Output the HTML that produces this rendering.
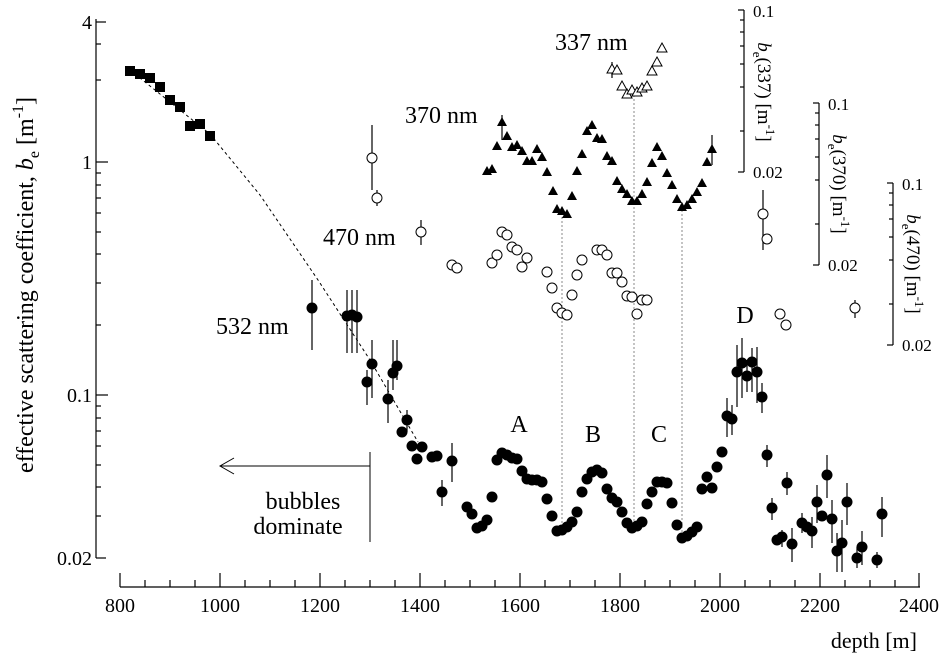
<!DOCTYPE html>
<html><head><meta charset="utf-8"><style>
html,body{margin:0;padding:0;background:#fff;}
svg{display:block;font-family:"Liberation Serif",serif;}
</style></head><body>
<svg width="942" height="662" viewBox="0 0 942 662" xmlns="http://www.w3.org/2000/svg">
<g stroke="#000" stroke-width="1.2" fill="none">
<line x1="96" y1="19" x2="96" y2="558"/>
<line x1="96" y1="22" x2="106" y2="22"/><line x1="96" y1="44" x2="101" y2="44"/><line x1="96" y1="80" x2="101" y2="80"/>
<line x1="96" y1="162" x2="108" y2="162"/>
<line x1="96" y1="173" x2="101" y2="173"/><line x1="96" y1="185" x2="101" y2="185"/><line x1="96" y1="198" x2="101" y2="198"/><line x1="96" y1="213" x2="101" y2="213"/><line x1="96" y1="232" x2="101" y2="232"/><line x1="96" y1="254" x2="101" y2="254"/><line x1="96" y1="283" x2="101" y2="283"/><line x1="96" y1="325" x2="101" y2="325"/>
<line x1="96" y1="395" x2="108" y2="395"/>
<line x1="96" y1="406" x2="101" y2="406"/><line x1="96" y1="418" x2="101" y2="418"/><line x1="96" y1="431" x2="101" y2="431"/><line x1="96" y1="446" x2="101" y2="446"/><line x1="96" y1="465" x2="101" y2="465"/><line x1="96" y1="487" x2="101" y2="487"/><line x1="96" y1="516" x2="101" y2="516"/>
<line x1="96" y1="558" x2="106" y2="558"/>
<line x1="120" y1="587" x2="920" y2="587"/>
<line x1="120" y1="573" x2="120" y2="587"/><line x1="220" y1="573" x2="220" y2="587"/><line x1="320" y1="573" x2="320" y2="587"/><line x1="420" y1="573" x2="420" y2="587"/><line x1="520" y1="573" x2="520" y2="587"/><line x1="620" y1="573" x2="620" y2="587"/><line x1="720" y1="573" x2="720" y2="587"/><line x1="820" y1="573" x2="820" y2="587"/><line x1="919" y1="573" x2="919" y2="587"/>
<line x1="145" y1="580" x2="145" y2="587"/><line x1="170" y1="580" x2="170" y2="587"/><line x1="195" y1="580" x2="195" y2="587"/><line x1="245" y1="580" x2="245" y2="587"/><line x1="270" y1="580" x2="270" y2="587"/><line x1="295" y1="580" x2="295" y2="587"/><line x1="345" y1="580" x2="345" y2="587"/><line x1="370" y1="580" x2="370" y2="587"/><line x1="395" y1="580" x2="395" y2="587"/><line x1="445" y1="580" x2="445" y2="587"/><line x1="470" y1="580" x2="470" y2="587"/><line x1="495" y1="580" x2="495" y2="587"/><line x1="545" y1="580" x2="545" y2="587"/><line x1="570" y1="580" x2="570" y2="587"/><line x1="595" y1="580" x2="595" y2="587"/><line x1="645" y1="580" x2="645" y2="587"/><line x1="670" y1="580" x2="670" y2="587"/><line x1="695" y1="580" x2="695" y2="587"/><line x1="745" y1="580" x2="745" y2="587"/><line x1="770" y1="580" x2="770" y2="587"/><line x1="795" y1="580" x2="795" y2="587"/><line x1="845" y1="580" x2="845" y2="587"/><line x1="870" y1="580" x2="870" y2="587"/><line x1="895" y1="580" x2="895" y2="587"/>
<line x1="744" y1="10" x2="744" y2="172"/>
<line x1="738" y1="10" x2="744" y2="10"/><line x1="740" y1="20" x2="744" y2="20"/><line x1="740" y1="32" x2="744" y2="32"/><line x1="740" y1="46" x2="744" y2="46"/><line x1="740" y1="64" x2="744" y2="64"/><line x1="740" y1="87" x2="744" y2="87"/><line x1="740" y1="131" x2="744" y2="131"/><line x1="738" y1="172" x2="744" y2="172"/>
<line x1="819" y1="103" x2="819" y2="265"/>
<line x1="813" y1="103" x2="819" y2="103"/><line x1="815" y1="113" x2="819" y2="113"/><line x1="815" y1="125" x2="819" y2="125"/><line x1="815" y1="139" x2="819" y2="139"/><line x1="815" y1="157" x2="819" y2="157"/><line x1="815" y1="180" x2="819" y2="180"/><line x1="815" y1="224" x2="819" y2="224"/><line x1="813" y1="265" x2="819" y2="265"/>
<line x1="893" y1="183" x2="893" y2="345"/>
<line x1="887" y1="183" x2="893" y2="183"/><line x1="889" y1="193" x2="893" y2="193"/><line x1="889" y1="205" x2="893" y2="205"/><line x1="889" y1="219" x2="893" y2="219"/><line x1="889" y1="237" x2="893" y2="237"/><line x1="889" y1="260" x2="893" y2="260"/><line x1="889" y1="304" x2="893" y2="304"/><line x1="887" y1="345" x2="893" y2="345"/>
<polyline points="130,70 210,134 260,195 318,280 370,360 418,442" stroke-dasharray="3,3" stroke-width="1"/>
<g stroke="#888" stroke-dasharray="2,2" stroke-width="1"><line x1="562" y1="213" x2="562" y2="533"/><line x1="634" y1="95" x2="634" y2="532"/><line x1="682" y1="210" x2="682" y2="540"/></g>
<line x1="370" y1="452" x2="370" y2="542" stroke-width="1"/>
<line x1="220" y1="466" x2="370" y2="466" stroke-width="1"/>
<polyline points="234,458 220,466 234,474" stroke-width="1"/>
<g stroke-width="1.2">
<line x1="312" y1="280" x2="312" y2="350"/><line x1="347" y1="290" x2="347" y2="353"/><line x1="352" y1="290" x2="352" y2="353"/><line x1="357" y1="290" x2="357" y2="353"/>
<line x1="372" y1="340" x2="372" y2="398"/><line x1="367" y1="370" x2="367" y2="405"/><line x1="388" y1="380" x2="388" y2="423"/><line x1="393" y1="340" x2="393" y2="390"/><line x1="397" y1="340" x2="397" y2="380"/>
<line x1="407" y1="410" x2="407" y2="432"/><line x1="452" y1="443" x2="452" y2="482"/><line x1="442" y1="480" x2="442" y2="506"/>
<line x1="727" y1="398" x2="727" y2="437"/><line x1="732" y1="405" x2="732" y2="435"/><line x1="737" y1="345" x2="737" y2="407"/><line x1="742" y1="338" x2="742" y2="398"/><line x1="747" y1="360" x2="747" y2="392"/><line x1="752" y1="348" x2="752" y2="392"/><line x1="757" y1="347" x2="757" y2="403"/><line x1="762" y1="383" x2="762" y2="413"/>
<line x1="767" y1="445" x2="767" y2="467"/><line x1="772" y1="498" x2="772" y2="520"/><line x1="782" y1="530" x2="782" y2="547"/><line x1="787" y1="472" x2="787" y2="495"/><line x1="792" y1="528" x2="792" y2="562"/>
<line x1="802" y1="513" x2="802" y2="533"/><line x1="812" y1="517" x2="812" y2="548"/><line x1="817" y1="485" x2="817" y2="523"/><line x1="827" y1="455" x2="827" y2="498"/><line x1="832" y1="500" x2="832" y2="543"/><line x1="837" y1="533" x2="837" y2="572"/><line x1="842" y1="520" x2="842" y2="572"/><line x1="847" y1="483" x2="847" y2="525"/><line x1="857" y1="547" x2="857" y2="568"/><line x1="862" y1="531" x2="862" y2="565"/><line x1="877" y1="552" x2="877" y2="568"/><line x1="882" y1="497" x2="882" y2="537"/>
<line x1="372" y1="125" x2="372" y2="190"/><line x1="377" y1="190" x2="377" y2="206"/><line x1="421" y1="220" x2="421" y2="245"/><line x1="763" y1="190" x2="763" y2="250"/><line x1="855" y1="300" x2="855" y2="318"/>
<line x1="502" y1="115" x2="502" y2="140"/><line x1="612" y1="62" x2="612" y2="78"/><line x1="712" y1="135" x2="712" y2="165"/>
</g>
</g>
<g fill="#000">
<circle cx="312" cy="308" r="5.5"/><circle cx="347" cy="316" r="5.5"/><circle cx="352" cy="315" r="5.5"/><circle cx="357" cy="317" r="5.5"/><circle cx="372" cy="364" r="5.5"/><circle cx="367" cy="382" r="5.5"/><circle cx="388" cy="399" r="5.5"/><circle cx="393" cy="373" r="5.5"/><circle cx="397" cy="366" r="5.5"/><circle cx="407" cy="420" r="5.5"/><circle cx="402" cy="432" r="5.5"/><circle cx="412" cy="446" r="5.5"/><circle cx="417" cy="459" r="5.5"/><circle cx="422" cy="447" r="5.5"/><circle cx="432" cy="457" r="5.5"/><circle cx="437" cy="456" r="5.5"/><circle cx="452" cy="461" r="5.5"/><circle cx="442" cy="492" r="5.5"/>
<circle cx="467" cy="507" r="5.5"/><circle cx="472" cy="514" r="5.5"/><circle cx="477" cy="528" r="5.5"/><circle cx="482" cy="526" r="5.5"/><circle cx="487" cy="520" r="5.5"/><circle cx="492" cy="497" r="5.5"/><circle cx="497" cy="460" r="5.5"/><circle cx="502" cy="453" r="5.5"/><circle cx="507" cy="455" r="5.5"/><circle cx="512" cy="458" r="5.5"/><circle cx="517" cy="459" r="5.5"/><circle cx="522" cy="471" r="5.5"/><circle cx="527" cy="479" r="5.5"/><circle cx="532" cy="480" r="5.5"/><circle cx="537" cy="480" r="5.5"/><circle cx="542" cy="482" r="5.5"/><circle cx="547" cy="499" r="5.5"/><circle cx="552" cy="516" r="5.5"/><circle cx="557" cy="531" r="5.5"/><circle cx="562" cy="530" r="5.5"/><circle cx="567" cy="527" r="5.5"/><circle cx="572" cy="522" r="5.5"/><circle cx="577" cy="512" r="5.5"/><circle cx="582" cy="492" r="5.5"/><circle cx="587" cy="479" r="5.5"/><circle cx="592" cy="472" r="5.5"/><circle cx="597" cy="470" r="5.5"/><circle cx="602" cy="473" r="5.5"/><circle cx="607" cy="489" r="5.5"/><circle cx="612" cy="498" r="5.5"/><circle cx="617" cy="502" r="5.5"/><circle cx="622" cy="512" r="5.5"/><circle cx="627" cy="523" r="5.5"/><circle cx="632" cy="528" r="5.5"/><circle cx="637" cy="526" r="5.5"/><circle cx="642" cy="522" r="5.5"/><circle cx="647" cy="504" r="5.5"/><circle cx="652" cy="492" r="5.5"/><circle cx="657" cy="482" r="5.5"/><circle cx="662" cy="482" r="5.5"/><circle cx="667" cy="483" r="5.5"/><circle cx="672" cy="503" r="5.5"/><circle cx="677" cy="525" r="5.5"/><circle cx="682" cy="538" r="5.5"/><circle cx="687" cy="536" r="5.5"/><circle cx="692" cy="532" r="5.5"/><circle cx="697" cy="527" r="5.5"/><circle cx="702" cy="489" r="5.5"/><circle cx="707" cy="477" r="5.5"/><circle cx="712" cy="488" r="5.5"/><circle cx="717" cy="467" r="5.5"/><circle cx="722" cy="452" r="5.5"/><circle cx="727" cy="416" r="5.5"/><circle cx="732" cy="419" r="5.5"/><circle cx="737" cy="372" r="5.5"/><circle cx="742" cy="363" r="5.5"/><circle cx="747" cy="376" r="5.5"/><circle cx="752" cy="362" r="5.5"/><circle cx="757" cy="372" r="5.5"/><circle cx="762" cy="397" r="5.5"/><circle cx="767" cy="455" r="5.5"/><circle cx="772" cy="508" r="5.5"/><circle cx="777" cy="540" r="5.5"/><circle cx="782" cy="537" r="5.5"/><circle cx="787" cy="483" r="5.5"/><circle cx="792" cy="544" r="5.5"/><circle cx="802" cy="523" r="5.5"/><circle cx="807" cy="527" r="5.5"/><circle cx="812" cy="531" r="5.5"/><circle cx="817" cy="502" r="5.5"/><circle cx="822" cy="516" r="5.5"/><circle cx="827" cy="475" r="5.5"/><circle cx="832" cy="519" r="5.5"/><circle cx="837" cy="551" r="5.5"/><circle cx="842" cy="543" r="5.5"/><circle cx="847" cy="502" r="5.5"/><circle cx="857" cy="558" r="5.5"/><circle cx="862" cy="547" r="5.5"/><circle cx="877" cy="560" r="5.5"/><circle cx="882" cy="514" r="5.5"/>
<rect x="125" y="66" width="10" height="10"/><rect x="135" y="69" width="10" height="10"/><rect x="145" y="73" width="10" height="10"/><rect x="155" y="82" width="10" height="10"/><rect x="165" y="95" width="10" height="10"/><rect x="175" y="102" width="10" height="10"/><rect x="185" y="121" width="10" height="10"/><rect x="195" y="119" width="10" height="10"/><rect x="205" y="131" width="10" height="10"/>
<path d="M487,166l5,9h-10z"/><path d="M492,164l5,9h-10z"/><path d="M497,141l5,9h-10z"/><path d="M502,117l5,9h-10z"/><path d="M507,131l5,9h-10z"/><path d="M512,142l5,9h-10z"/><path d="M517,140l5,9h-10z"/><path d="M522,146l5,9h-10z"/><path d="M527,156l5,9h-10z"/><path d="M532,156l5,9h-10z"/><path d="M537,144l5,9h-10z"/><path d="M542,152l5,9h-10z"/><path d="M547,167l5,9h-10z"/><path d="M553,186l5,9h-10z"/><path d="M557,204l5,9h-10z"/><path d="M562,206l5,9h-10z"/><path d="M567,209l5,9h-10z"/><path d="M572,191l5,9h-10z"/><path d="M577,166l5,9h-10z"/><path d="M582,149l5,9h-10z"/><path d="M587,126l5,9h-10z"/><path d="M592,120l5,9h-10z"/><path d="M597,133l5,9h-10z"/><path d="M602,134l5,9h-10z"/><path d="M607,151l5,9h-10z"/><path d="M612,156l5,9h-10z"/><path d="M617,176l5,9h-10z"/><path d="M622,184l5,9h-10z"/><path d="M627,189l5,9h-10z"/><path d="M632,196l5,9h-10z"/><path d="M637,196l5,9h-10z"/><path d="M642,189l5,9h-10z"/><path d="M647,177l5,9h-10z"/><path d="M652,158l5,9h-10z"/><path d="M657,142l5,9h-10z"/><path d="M662,151l5,9h-10z"/><path d="M667,168l5,9h-10z"/><path d="M672,180l5,9h-10z"/><path d="M677,194l5,9h-10z"/><path d="M682,202l5,9h-10z"/><path d="M687,200l5,9h-10z"/><path d="M692,194l5,9h-10z"/><path d="M697,187l5,9h-10z"/><path d="M702,178l5,9h-10z"/><path d="M707,157l5,9h-10z"/><path d="M712,144l5,9h-10z"/>
</g>
<g fill="#fff" stroke="#000" stroke-width="1">
<path d="M612,64l5,9h-10z"/><path d="M617,65l5,9h-10z"/><path d="M622,81l5,9h-10z"/><path d="M627,89l5,9h-10z"/><path d="M632,85l5,9h-10z"/><path d="M637,87l5,9h-10z"/><path d="M642,83l5,9h-10z"/><path d="M647,81l5,9h-10z"/><path d="M652,66l5,9h-10z"/><path d="M657,57l5,9h-10z"/><path d="M662,43l5,9h-10z"/>
<circle cx="372" cy="158" r="5"/><circle cx="377" cy="198" r="5"/><circle cx="421" cy="232" r="5"/><circle cx="452" cy="265" r="5"/><circle cx="457" cy="268" r="5"/>
<circle cx="492" cy="263" r="5"/><circle cx="497" cy="255" r="5"/><circle cx="502" cy="232" r="5"/><circle cx="507" cy="235" r="5"/><circle cx="512" cy="247" r="5"/><circle cx="517" cy="250" r="5"/><circle cx="522" cy="267" r="5"/><circle cx="527" cy="258" r="5"/><circle cx="547" cy="272" r="5"/><circle cx="552" cy="288" r="5"/><circle cx="557" cy="308" r="5"/><circle cx="562" cy="313" r="5"/><circle cx="567" cy="315" r="5"/><circle cx="572" cy="295" r="5"/><circle cx="577" cy="275" r="5"/><circle cx="582" cy="260" r="5"/><circle cx="597" cy="250" r="5"/><circle cx="602" cy="250" r="5"/><circle cx="607" cy="255" r="5"/><circle cx="612" cy="273" r="5"/><circle cx="617" cy="273" r="5"/><circle cx="622" cy="282" r="5"/><circle cx="627" cy="296" r="5"/><circle cx="632" cy="297" r="5"/><circle cx="637" cy="314" r="5"/><circle cx="642" cy="300" r="5"/><circle cx="647" cy="300" r="5"/>
<circle cx="763" cy="214" r="5"/><circle cx="767" cy="239" r="5"/><circle cx="780" cy="314" r="5"/><circle cx="786" cy="325" r="5"/><circle cx="855" cy="308" r="5"/>
</g>
<g fill="#000">
<g font-size="20">
<text x="92" y="29" text-anchor="end">4</text>
<text x="92" y="169" text-anchor="end">1</text>
<text x="92" y="402" text-anchor="end">0.1</text>
<text x="92" y="565" text-anchor="end">0.02</text>
<g text-anchor="middle">
<text x="120" y="612">800</text><text x="220" y="612">1000</text><text x="320" y="612">1200</text><text x="420" y="612">1400</text><text x="520" y="612">1600</text><text x="620" y="612">1800</text><text x="720" y="612">2000</text><text x="820" y="612">2200</text><text x="919" y="612">2400</text>
</g>
</g>
<g font-size="24">
<g text-anchor="middle">
<text x="519" y="432">A</text><text x="593" y="442">B</text><text x="659" y="442">C</text><text x="745" y="323">D</text>
<text x="303" y="509">bubbles</text><text x="298" y="534">dominate</text>
</g>
<text x="917" y="648" text-anchor="end" font-size="22">depth [m]</text>
<text x="555" y="50">337 nm</text>
<text x="405" y="123">370 nm</text>
<text x="323" y="245">470 nm</text>
<text x="216" y="334">532 nm</text>
<text transform="translate(33,285) rotate(-90)" text-anchor="middle">effective scattering coefficient, <tspan font-style="italic">b</tspan><tspan font-size="16" dy="6">e</tspan><tspan dy="-6"> [m</tspan><tspan font-size="16" dy="-10">-1</tspan><tspan dy="10">]</tspan></text>
</g>
</g>
<g font-size="17" fill="#000">
<text x="753" y="17">0.1</text><text x="753" y="178">0.02</text>
<text x="828" y="110">0.1</text><text x="828" y="271">0.02</text>
<text x="902" y="190">0.1</text><text x="902" y="351">0.02</text>
<text transform="translate(758,92) rotate(90)" text-anchor="middle" font-size="19"><tspan font-style="italic">b</tspan><tspan font-size="13" dy="5">e</tspan><tspan dy="-5">(337) [m</tspan><tspan font-size="13" dy="-8">-1</tspan><tspan dy="8">]</tspan></text>
<text transform="translate(833,184) rotate(90)" text-anchor="middle" font-size="19"><tspan font-style="italic">b</tspan><tspan font-size="13" dy="5">e</tspan><tspan dy="-5">(370) [m</tspan><tspan font-size="13" dy="-8">-1</tspan><tspan dy="8">]</tspan></text>
<text transform="translate(907,264) rotate(90)" text-anchor="middle" font-size="19"><tspan font-style="italic">b</tspan><tspan font-size="13" dy="5">e</tspan><tspan dy="-5">(470) [m</tspan><tspan font-size="13" dy="-8">-1</tspan><tspan dy="8">]</tspan></text>
</g>
</svg>
</body></html>
